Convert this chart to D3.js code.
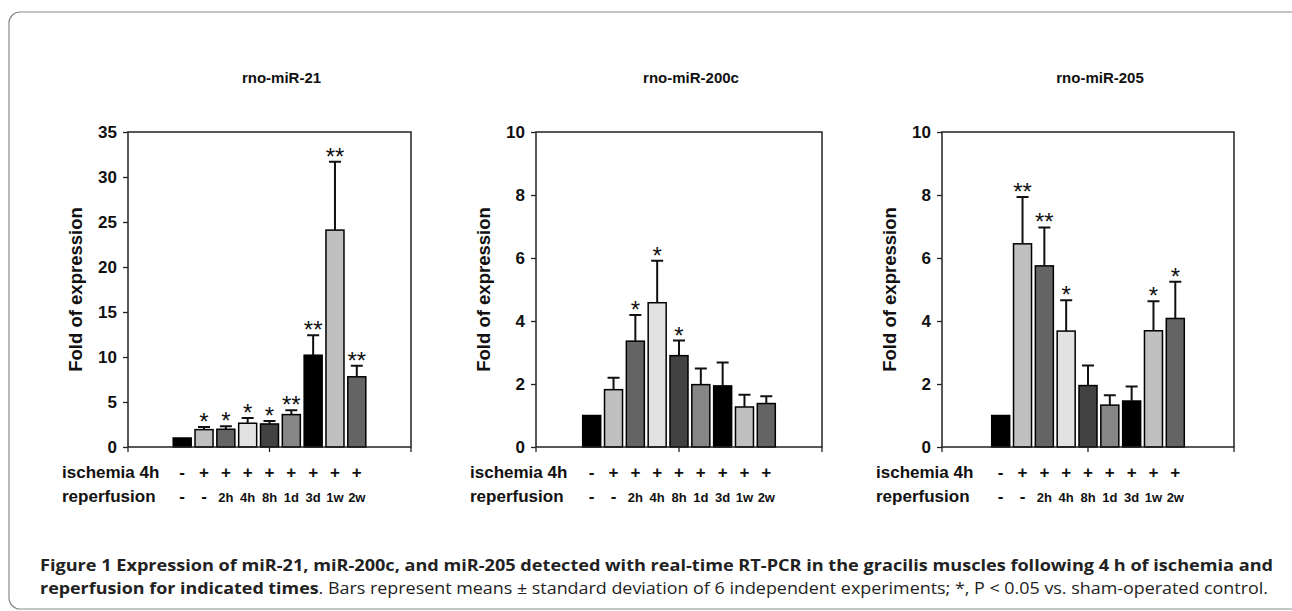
<!DOCTYPE html>
<meta charset="utf-8">
<html><head>
<style>
body { margin: 0; background: #fff; }
text { font-family: "Liberation Sans", Arial, sans-serif; }
.axis text { font-size: 17px; font-weight: bold; fill: #111; }
.axis line { stroke: #222; stroke-width: 1.3px; }
.frame { fill: none; stroke: #222; stroke-width: 1.5px; }
.bar { stroke: #000; stroke-width: 1.5px; }
.err { stroke: #111; stroke-width: 2px; fill: none; }
.caption { font-family: "Open Sans", "Noto Sans", sans-serif; font-size: 16px; fill: #222; }
</style>
</head>
<body>
<svg width="1292" height="611"></svg>
<script src="https://d3js.org/d3.v7.min.js"></script>
<script>

// shared categories
var ischemia = ["-", "+", "+", "+", "+", "+", "+", "+", "+"];
var reperfusion = ["-", "-", "2h", "4h", "8h", "1d", "3d", "1w", "2w"];
var barFills = ["#000000", "#c0c0c0", "#646464", "#e2e2e2", "#424242", "#868686", "#000000", "#c0c0c0", "#646464"];

// rno-miR-21
var miR21Mean = [1.0, 1.93, 1.97, 2.64, 2.56, 3.6, 10.2, 24.1, 7.8];
var miR21SD   = [0, 0.3, 0.33, 0.59, 0.34, 0.48, 2.23, 7.6, 1.22];
var miR21Sig  = ["", "*", "*", "*", "*", "**", "**", "**", "**"];
var miR21Ticks = [0, 5, 10, 15, 20, 25, 30, 35];

// rno-miR-200c
var miR200cMean = [1.0, 1.82, 3.36, 4.58, 2.9, 1.98, 1.94, 1.27, 1.38];
var miR200cSD   = [0, 0.38, 0.83, 1.33, 0.48, 0.51, 0.74, 0.39, 0.23];
var miR200cSig  = ["", "", "*", "*", "*", "", "", "", ""];

// rno-miR-205
var miR205Mean = [1.0, 6.45, 5.75, 3.68, 1.95, 1.33, 1.46, 3.69, 4.08];
var miR205SD   = [0, 1.49, 1.22, 0.98, 0.64, 0.31, 0.46, 0.94, 1.17];
var miR205Sig  = ["", "**", "**", "*", "", "", "", "*", "*"];
var smallTicks = [0, 2, 4, 6, 8, 10];

var panels = [
  {title: "rno-miR-21",   mean: miR21Mean,   sd: miR21SD,   sig: miR21Sig,   ticks: miR21Ticks, left: 128, right: 411},
  {title: "rno-miR-200c", mean: miR200cMean, sd: miR200cSD, sig: miR200cSig, ticks: smallTicks, left: 536, right: 822},
  {title: "rno-miR-205",  mean: miR205Mean,  sd: miR205SD,  sig: miR205Sig,  ticks: smallTicks, left: 942, right: 1234}
];

var svg = d3.select("svg");
var plotTop = 132, plotBottom = 447;

// rounded outer border
svg.append("rect")
    .attr("x", 9).attr("y", 12)
    .attr("width", 1300).attr("height", 597)
    .attr("rx", 11)
    .attr("fill", "none")
    .attr("stroke", "#8a8a8a")
    .attr("stroke-width", 1.2);

panels.forEach(function(p) {
  var g = svg.append("g");
  var mid = (p.left + p.right) / 2;

  var y = d3.scaleLinear()
      .domain([0, d3.max(p.ticks)])
      .range([plotBottom, plotTop]);

  var x = d3.scaleBand()
      .domain(d3.range(p.mean.length))
      .range([mid - 96.3, mid + 96.3])
      .paddingInner(0.175);

  // title
  g.append("text")
      .attr("x", mid + 12)
      .attr("y", 83)
      .attr("text-anchor", "middle")
      .style("font-size", "15px")
      .style("font-weight", "bold")
      .attr("fill", "#111")
      .text(p.title);

  // y axis label
  g.append("text")
      .attr("transform", "translate(" + (p.left - 46) + "," + ((plotTop + plotBottom) / 2) + ") rotate(-90)")
      .attr("text-anchor", "middle")
      .style("font-size", "18.5px")
      .style("font-weight", "bold")
      .attr("fill", "#111")
      .text("Fold of expression");

  // y axis
  var yAxis = g.append("g")
      .attr("class", "axis")
      .attr("transform", "translate(" + p.left + ",0)")
      .call(d3.axisLeft(y).tickValues(p.ticks).tickSize(5).tickPadding(6));
  yAxis.select(".domain").remove();

  // bars
  g.selectAll(".bar")
    .data(p.mean)
    .enter().append("rect")
      .attr("class", "bar")
      .attr("x", function(d, i) { return x(i); })
      .attr("width", x.bandwidth())
      .attr("y", function(d) { return y(d); })
      .attr("height", function(d) { return plotBottom - y(d); })
      .attr("fill", function(d, i) { return barFills[i]; });

  // upper error bars
  var errs = p.mean.map(function(d, i) { return {i: i, m: d, s: p.sd[i], sig: p.sig[i]}; })
      .filter(function(d) { return d.s > 0; });

  g.selectAll(".err")
    .data(errs)
    .enter().append("path")
      .attr("class", "err")
      .attr("d", function(d) {
        var cx = x(d.i) + x.bandwidth() / 2;
        return "M" + cx + "," + y(d.m) + "V" + y(d.m + d.s) +
               "M" + (cx - 6) + "," + y(d.m + d.s) + "H" + (cx + 6);
      });

  // significance stars
  g.selectAll(".sig")
    .data(errs.filter(function(d) { return d.sig; }))
    .enter().append("text")
      .attr("class", "sig")
      .attr("x", function(d) { return x(d.i) + x.bandwidth() / 2; })
      .attr("y", function(d) { return y(d.m + d.s) + 3; })
      .attr("text-anchor", "middle")
      .style("font-size", "24px")
      .attr("fill", "#111")
      .text(function(d) { return d.sig; });

  // plot frame
  g.append("rect")
      .attr("class", "frame")
      .attr("x", p.left).attr("y", plotTop)
      .attr("width", p.right - p.left)
      .attr("height", plotBottom - plotTop);

  // bottom ticks
  g.selectAll(".xt")
    .data([p.left, mid, p.right])
    .enter().append("line")
      .attr("x1", function(d) { return d; })
      .attr("x2", function(d) { return d; })
      .attr("y1", plotBottom).attr("y2", plotBottom + 5)
      .attr("stroke", "#222").attr("stroke-width", 1.3);

  // condition rows
  g.append("text")
      .attr("x", p.left - 66).attr("y", 478)
      .style("font-size", "17px").style("font-weight", "bold")
      .attr("fill", "#111")
      .text("ischemia 4h");
  g.append("text")
      .attr("x", p.left - 66).attr("y", 502)
      .style("font-size", "17px").style("font-weight", "bold")
      .attr("fill", "#111")
      .text("reperfusion");

  g.selectAll(".isc")
    .data(ischemia)
    .enter().append("text")
      .attr("x", function(d, i) { return x(i) + x.bandwidth() / 2; })
      .attr("y", 478)
      .attr("text-anchor", "middle")
      .style("font-size", "17px").style("font-weight", "bold")
      .attr("fill", "#111")
      .text(function(d) { return d; });

  g.selectAll(".rep")
    .data(reperfusion)
    .enter().append("text")
      .attr("x", function(d, i) { return x(i) + x.bandwidth() / 2; })
      .attr("y", 502)
      .attr("text-anchor", "middle")
      .style("font-size", function(d) { return d === "-" ? "17px" : "13px"; })
      .style("font-weight", "bold")
      .attr("fill", "#111")
      .text(function(d) { return d; });
});

// caption
var cap1 = svg.append("text").attr("class", "caption")
    .attr("x", 40).attr("y", 571)
    .attr("textLength", 1233).attr("lengthAdjust", "spacingAndGlyphs")
    .style("font-weight", "bold");
cap1.append("tspan").text("Figure 1 ");
cap1.append("tspan").text("Expression of miR-21, miR-200c, and miR-205 detected with real-time RT-PCR in the gracilis muscles following 4 h of ischemia and");

var cap2 = svg.append("text").attr("class", "caption")
    .attr("x", 40).attr("y", 594)
    .attr("textLength", 1228).attr("lengthAdjust", "spacingAndGlyphs");
cap2.append("tspan").style("font-weight", "bold").text("reperfusion for indicated times");
cap2.append("tspan").text(". Bars represent means \u00b1 standard deviation of 6 independent experiments; *, P < 0.05 vs. sham-operated control.");

</script>
</body>
</html>
